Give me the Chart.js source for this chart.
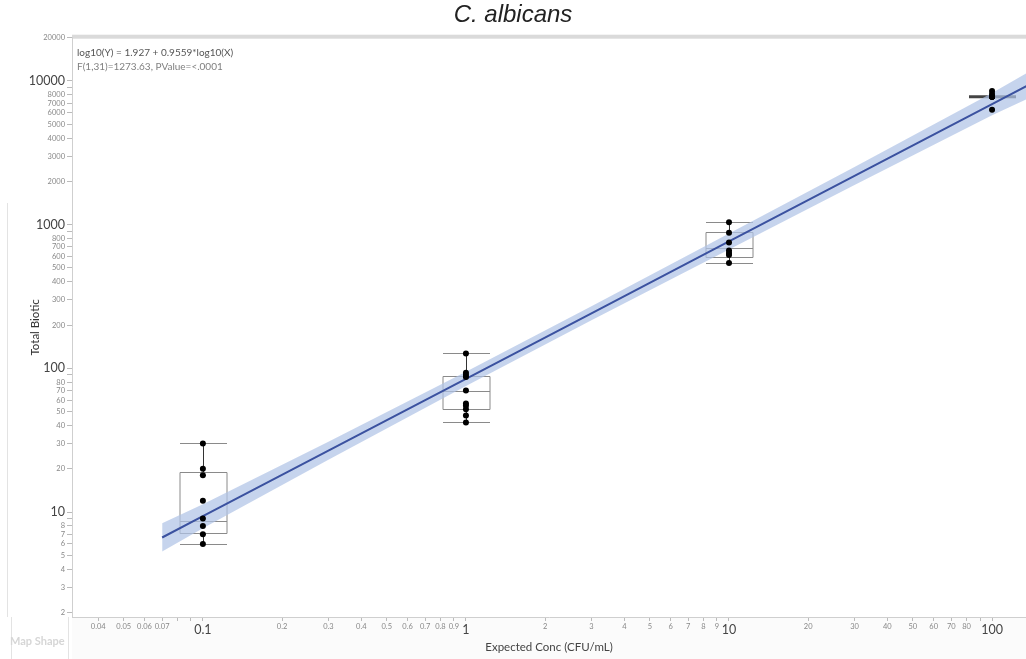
<!DOCTYPE html>
<html>
<head>
<meta charset="utf-8">
<script src="https://cdn.jsdelivr.net/npm/chart.js@4/dist/chart.umd.min.js"></script>
<style>
  html, body { margin: 0; padding: 0; background: #fff; }
  #wrap { width: 1026px; height: 659px; }
</style>
</head>
<body>
<div id="wrap"><canvas id="myChart" width="1026" height="659"></canvas></div>
<script>
(() => {
  'use strict'

  // groups on the x axis (CFU/mL)
  const groupX = [0.1, 1, 10, 100]

  // measured Total Biotic per group
  const pts01 = [30, 20, 18, 12, 9, 8, 7, 6]
  const pts1 = [127, 93, 90, 87, 70, 57, 55, 52, 47, 42]
  const pts10 = [1040, 880, 750, 660, 635, 615, 540]
  const pts100 = [8500, 8100, 7750, 7750, 7750, 7750, 7750, 6300]

  // box plot stats
  const boxQ1 = [7.1, 52, 595, 7750]
  const boxMed = [8.6, 69.5, 687, 7750]
  const boxQ3 = [19, 88, 890, 7750]
  const whiskLo = [6, 42, 540, 7750]
  const whiskHi = [30, 127, 1040, 7750]

  // fit line and confidence band
  const fitX = [0.07, 0.1, 0.3, 1, 3, 10, 30, 100, 135]
  const fitY = [6.65, 9.36, 26.75, 84.5, 241.6, 763.6, 2183, 6901, 9193]
  const bandLo = [5.31, 7.71, 23.1, 75.5, 216, 671, 1888, 5781, 7448]
  const bandHi = [8.34, 11.35, 30.9, 94.6, 270, 869, 2523, 8241, 11324]

  // ticks
  const xTickValues = [0.04, 0.05, 0.06, 0.07, 0.08, 0.09, 0.1, 0.2, 0.3, 0.4, 0.5, 0.6, 0.7, 0.8, 0.9,
    1, 2, 3, 4, 5, 6, 7, 8, 9, 10, 20, 30, 40, 50, 60, 70, 80, 90, 100]
  const xTickLabels = ['0.04', '0.05', '0.06', '0.07', '', '', '0.1', '0.2', '0.3', '0.4', '0.5', '0.6', '0.7', '0.8', '0.9',
    '1', '2', '3', '4', '5', '6', '7', '8', '9', '10', '20', '30', '40', '50', '60', '70', '80', '', '100']
  const xMajor = [0.1, 1, 10, 100]

  const yTickValues = [2, 3, 4, 5, 6, 7, 8, 9, 10, 20, 30, 40, 50, 60, 70, 80, 90,
    100, 200, 300, 400, 500, 600, 700, 800, 900, 1000, 2000, 3000, 4000, 5000, 6000, 7000, 8000, 9000, 10000, 20000]
  const yTickLabels = ['2', '3', '4', '5', '6', '7', '8', '', '10', '20', '30', '40', '50', '60', '70', '80', '',
    '100', '200', '300', '400', '500', '600', '700', '800', '', '1000', '2000', '3000', '4000', '5000', '6000', '7000', '8000', '', '10000', '20000']
  const yMajor = [10, 100, 1000, 10000]

  const fitText = ['log10(Y) = 1.927 + 0.9559*log10(X)', 'F(1,31)=1273.63, PValue=<.0001']

  const groups = [pts01, pts1, pts10, pts100]
  const points = []
  groups.forEach((g, i) => g.forEach(v => points.push({ x: groupX[i], y: v })))
  const xy = (xs, ys) => xs.map((v, i) => ({ x: v, y: ys[i] }))

  const fontFam = 'Lato, "Noto Sans", sans-serif'

  const decor = {
    id: 'decor',
    beforeDraw (chart) {
      const { ctx, chartArea: a } = chart
      ctx.save()
      ctx.fillStyle = '#fbfbfb'
      ctx.fillRect(a.left, a.bottom, chart.width - a.left, chart.height - a.bottom)
      ctx.fillStyle = '#dadada'
      ctx.fillRect(a.left, a.top - 3, chart.width - a.left, 4)
      ctx.strokeStyle = '#e3e3e3'
      ctx.lineWidth = 1
      ctx.beginPath()
      ctx.moveTo(7.5, 203); ctx.lineTo(7.5, a.bottom)
      ctx.moveTo(11.5, a.bottom); ctx.lineTo(11.5, chart.height)
      ctx.moveTo(68.5, a.bottom); ctx.lineTo(68.5, chart.height)
      ctx.stroke()
      ctx.fillStyle = '#d6d6d6'
      ctx.font = 'bold 11px ' + fontFam
      ctx.textBaseline = 'middle'
      ctx.fillText('Map Shape', 10, 641)
      ctx.restore()
    },
    beforeDatasetsDraw (chart) {
      const { ctx, scales: { x, y } } = chart
      const half = 23.5
      ctx.save()
      ctx.lineWidth = 1
      groupX.forEach((gx, i) => {
        const cx = Math.round(x.getPixelForValue(gx)) + 0.5
        const q1 = y.getPixelForValue(boxQ1[i])
        const q3 = y.getPixelForValue(boxQ3[i])
        const md = y.getPixelForValue(boxMed[i])
        const lo = y.getPixelForValue(whiskLo[i])
        const hi = y.getPixelForValue(whiskHi[i])
        if (boxQ1[i] === boxQ3[i]) {
          ctx.strokeStyle = '#444'
          ctx.lineWidth = 3
          ctx.beginPath()
          ctx.moveTo(cx - half, md); ctx.lineTo(cx + half, md)
          ctx.stroke()
          ctx.lineWidth = 1
          return
        }
        ctx.strokeStyle = '#333'
        ctx.beginPath()
        ctx.moveTo(cx, hi); ctx.lineTo(cx, q3)
        ctx.moveTo(cx, q1); ctx.lineTo(cx, lo)
        ctx.stroke()
        ctx.strokeStyle = '#8a8a8a'
        ctx.beginPath()
        ctx.rect(cx - half, Math.round(q3) + 0.5, half * 2, Math.round(q1) - Math.round(q3))
        ctx.moveTo(cx - half, Math.round(md) + 0.5); ctx.lineTo(cx + half, Math.round(md) + 0.5)
        ctx.moveTo(cx - half, Math.round(hi) + 0.5); ctx.lineTo(cx + half, Math.round(hi) + 0.5)
        ctx.moveTo(cx - half, Math.round(lo) + 0.5); ctx.lineTo(cx + half, Math.round(lo) + 0.5)
        ctx.stroke()
      })
      ctx.restore()
    },
    afterDraw (chart) {
      const { ctx, chartArea: a } = chart
      ctx.save()
      ctx.textBaseline = 'middle'
      ctx.font = '10px ' + fontFam
      ctx.fillStyle = '#555'
      ctx.fillText(fitText[0], a.left + 5, 53)
      ctx.fillStyle = '#808080'
      ctx.fillText(fitText[1], a.left + 5, 67)
      ctx.restore()
    }
  }

  const ctx = document.getElementById('myChart')
  // eslint-disable-next-line no-unused-vars
  const myChart = new Chart(ctx, {
    type: 'scatter',
    data: {
      datasets: [
        {
          data: xy(fitX, bandLo),
          showLine: true,
          borderWidth: 0,
          pointRadius: 0,
          fill: false,
          order: 3
        },
        {
          data: xy(fitX, bandHi),
          showLine: true,
          borderWidth: 0,
          pointRadius: 0,
          fill: '-1',
          backgroundColor: 'rgba(176, 195, 230, 0.72)',
          order: 3
        },
        {
          data: xy(fitX, fitY),
          showLine: true,
          borderColor: '#3b52a0',
          borderWidth: 2,
          pointRadius: 0,
          order: 2
        },
        {
          data: points,
          pointRadius: 3,
          pointBackgroundColor: '#000',
          pointBorderWidth: 0,
          order: 1
        }
      ]
    },
    options: {
      responsive: false,
      animation: false,
      layout: { padding: 0, autoPadding: false },
      plugins: {
        legend: { display: false },
        tooltip: { enabled: false },
        title: {
          display: true,
          text: 'C. albicans',
          color: '#222',
          font: { family: '"Liberation Sans", Arial, sans-serif', size: 24, style: 'italic', weight: 'normal' },
          padding: { top: 1, bottom: 7.9 }
        }
      },
      scales: {
        x: {
          type: 'logarithmic',
          min: 0.0318,
          max: 134.6,
          afterFit: s => { s.height = 42; s.paddingLeft = 0; s.paddingRight = 0 },
          afterBuildTicks: s => { s.ticks = xTickValues.map(v => ({ value: v })) },
          border: { color: '#cfcfcf' },
          grid: { drawOnChartArea: false, tickLength: 4, tickColor: '#bbb' },
          ticks: {
            autoSkip: false,
            maxRotation: 0,
            padding: 1,
            callback: (v, i) => xTickLabels[i],
            color: c => xMajor.includes(c.tick.value) ? '#444' : '#888',
            font: c => ({ family: fontFam, size: xMajor.includes(c.tick.value) ? 12.5 : 7.5 })
          },
          title: {
            display: true,
            text: 'Expected Conc (CFU/mL)',
            color: '#444',
            font: { family: fontFam, size: 11.5 },
            padding: { top: 0, bottom: 5 }
          }
        },
        y: {
          type: 'logarithmic',
          min: 1.86,
          max: 20000,
          afterFit: s => { s.width = 72; s.paddingTop = 0; s.paddingBottom = 0 },
          afterBuildTicks: s => { s.ticks = yTickValues.map(v => ({ value: v })) },
          border: { color: '#cfcfcf' },
          grid: { drawOnChartArea: false, tickLength: 5, tickColor: '#bbb' },
          ticks: {
            autoSkip: false,
            padding: 2,
            callback: (v, i) => yTickLabels[i],
            color: c => yMajor.includes(c.tick.value) ? '#444' : '#888',
            font: c => ({ family: fontFam, size: yMajor.includes(c.tick.value) ? 12.5 : 7.5 })
          },
          title: {
            display: true,
            text: 'Total Biotic',
            color: '#333',
            font: { family: fontFam, size: 11.5 },
            padding: { top: 28, bottom: 0 }
          }
        }
      }
    },
    plugins: [decor]
  })
})()
</script>
</body>
</html>
